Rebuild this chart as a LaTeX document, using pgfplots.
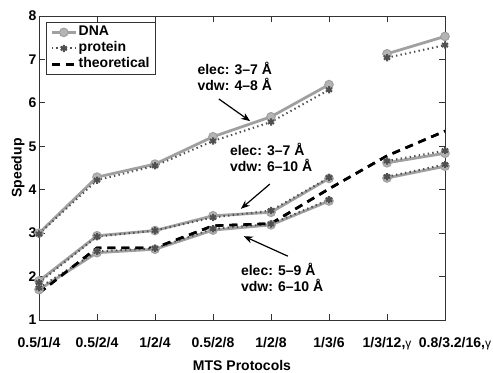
\documentclass[border=0pt]{standalone}
\usepackage{fontspec}
\setmainfont{Liberation Sans}
\usepackage{pgfplots}
\pgfplotsset{compat=1.18}
\usetikzlibrary{arrows.meta}
\definecolor{dnagray}{HTML}{A0A0A0}
\definecolor{dnafill}{HTML}{B4B4B4}
\definecolor{protgray}{HTML}{505050}
\newcommand{\gam}{{\mdseries\fontsize{12}{12}\selectfont γ}}
\begin{document}
\begin{tikzpicture}
\begin{axis}[
  scale only axis, width=406pt, height=304pt,
  xmin=0, xmax=7, ymin=1, ymax=8,
  xtick={0,...,7},
  xticklabels={0.5/1/4, 0.5/2/4, 1/2/4, 0.5/2/8, 1/2/8, 1/3/6, {1/3/12,\gam}, {\hspace*{20pt}0.8/3.2/16,\gam}},
  ytick={1,...,8},
  tick align=inside, major tick length=6pt,
  axis line style={draw=black!80, line width=0.8pt},
  tick style={draw=black!80, line width=0.8pt},
  /pgf/number format/assume math mode=true,
  every tick label/.append style={font=\fontsize{14}{16}\selectfont\bfseries},
  xticklabel style={anchor=base, yshift=-27pt},
  yticklabel style={xshift=1pt},
  label style={font=\fontsize{14}{16}\selectfont\bfseries},
  xlabel={MTS Protocols}, ylabel={Speedup},
  xlabel style={at={([yshift=-45.5pt]rel axis cs:0.5,0)}, anchor=center},
  ylabel style={at={([xshift=-21pt]rel axis cs:0,0.5)}, anchor=center},
  legend style={at={([xshift=7pt,yshift=-6pt]rel axis cs:0,1)}, anchor=north west,
    font=\fontsize{14}{15}\selectfont\bfseries, draw=black!80, line width=0.8pt,
    inner xsep=4pt, inner ysep=2pt, row sep=0pt,
    nodes={inner sep=1.5pt, text height=10pt, text depth=3pt}},
  legend cell align=left,
  legend image code/.code={\draw[mark repeat=2,mark phase=2,#1] plot coordinates {(0pt,0pt) (12pt,0pt) (24pt,0pt)};},
  dna/.style={draw=dnagray, line width=2.8pt, mark=*, mark size=4.3pt,
    mark options={solid, fill=dnafill, draw=dnagray, line width=1pt}},
  prot/.style={draw=protgray, line width=2pt, dash pattern=on 1.4pt off 3.2pt, mark=asterisk, mark size=3.6pt,
    mark options={solid, draw=protgray, line width=2pt}},
  theo/.style={draw=black, line width=2.6pt, dash pattern=on 8pt off 6pt},
]
\addplot[dna] coordinates {(0,3.00) (1,4.29) (2,4.59) (3,5.22) (4,5.68) (5,6.42)};
\addlegendentry{DNA}
\addplot[prot] coordinates {(0,2.98) (1,4.22) (2,4.55) (3,5.12) (4,5.56) (5,6.30)};
\addlegendentry{protein}
\addplot[theo] coordinates {(0,1.62) (1,2.66) (2,2.66) (3,3.17) (4,3.22) (5,4.02) (6,4.78) (7,5.35)};
\addlegendentry{theoretical}
\addplot[dna, forget plot] coordinates {(6,7.13) (7,7.53)};
\addplot[prot, forget plot] coordinates {(6,7.04) (7,7.33)};
\addplot[dna, forget plot] coordinates {(0,1.90) (1,2.94) (2,3.06) (3,3.40) (4,3.48) (5,4.26)};
\addplot[prot, forget plot] coordinates {(0,1.86) (1,2.92) (2,3.06) (3,3.36) (4,3.52) (5,4.28)};
\addplot[dna, forget plot] coordinates {(6,4.62) (7,4.84)};
\addplot[prot, forget plot] coordinates {(6,4.66) (7,4.90)};
\addplot[dna, forget plot] coordinates {(0,1.70) (1,2.55) (2,2.63) (3,3.07) (4,3.19) (5,3.74)};
\addplot[prot, forget plot] coordinates {(0,1.74) (1,2.58) (2,2.65) (3,3.10) (4,3.21) (5,3.77)};
\addplot[dna, forget plot] coordinates {(6,4.27) (7,4.54)};
\addplot[prot, forget plot] coordinates {(6,4.30) (7,4.58)};
\addplot[theo, forget plot] coordinates {(0,1.62) (1,2.66) (2,2.66) (3,3.17) (4,3.22) (5,4.02) (6,4.78) (7,5.35)};
\node[anchor=west, align=left, font=\fontsize{14}{16}\selectfont\bfseries, inner sep=0pt] at (axis cs:2.73,6.62) {elec: 3–7 Å\\vdw: 4–8 Å};
\draw[-{Stealth[length=9pt,width=7pt]}, line width=1.2pt] (axis cs:3.10,6.09) -- (axis cs:3.64,5.58);
\node[anchor=west, align=left, font=\fontsize{14}{16}\selectfont\bfseries, inner sep=0pt] at (axis cs:3.29,4.74) {elec: 3–7 Å\\vdw: 6–10 Å};
\draw[-{Stealth[length=9pt,width=7pt]}, line width=1.2pt] (axis cs:3.98,4.13) -- (axis cs:3.48,3.56);
\node[anchor=west, align=left, font=\fontsize{14}{16}\selectfont\bfseries, inner sep=0pt] at (axis cs:3.48,1.97) {elec: 5–9 Å\\vdw: 6–10 Å};
\draw[-{Stealth[length=9pt,width=7pt]}, line width=1.2pt] (axis cs:4.29,2.47) -- (axis cs:3.53,2.93);
\end{axis}
\pgfresetboundingbox
\path ([xshift=-39pt,yshift=-52pt]current axis.south west) rectangle ([xshift=48pt,yshift=16pt]current axis.north east);
\end{tikzpicture}
\end{document}
